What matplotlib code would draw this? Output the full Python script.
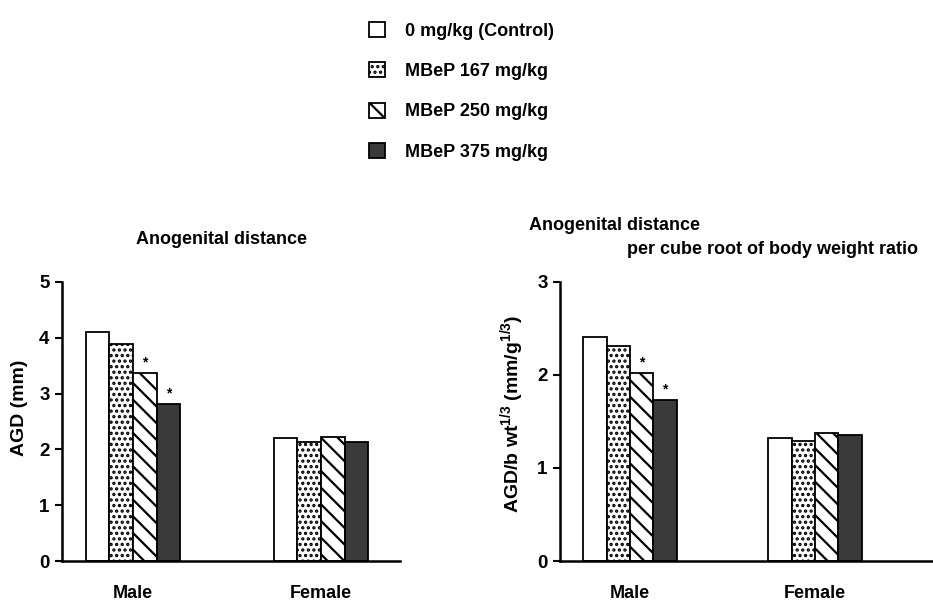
import matplotlib
matplotlib.use("Agg")
import matplotlib.pyplot as plt
from matplotlib.patches import Patch
import numpy as np

plt.rcParams['font.family'] = ['Liberation Sans', 'DejaVu Sans']
plt.rcParams['font.weight'] = 'bold'
plt.rcParams['hatch.linewidth'] = 1.6
plt.rcParams['mathtext.fontset'] = 'custom'
plt.rcParams['mathtext.rm'] = 'Liberation Sans:bold'
plt.rcParams['mathtext.bf'] = 'Liberation Sans:bold'
plt.rcParams['mathtext.default'] = 'rm'

groups = ["Male", "Female"]
series = ["0 mg/kg (Control)", "MBeP 167 mg/kg", "MBeP 250 mg/kg", "MBeP 375 mg/kg"]
agd = [[4.10, 2.20], [3.88, 2.13], [3.37, 2.22], [2.82, 2.14]]
agd_ratio = [[2.41, 1.32], [2.31, 1.29], [2.02, 1.38], [1.73, 1.36]]
signif = [[False, False], [False, False], [True, False], [True, False]]

faces = ['white', 'white', 'white', '#3a3a3a']
hatches = [None, '...', '\\\\', None]

W, H = 933, 605
fig = plt.figure(figsize=(W / 100, H / 100), dpi=100)

def px(x0, y0, x1, y1):
    return [x0 / W, 1 - y1 / H, (x1 - x0) / W, (y1 - y0) / H]

ax1 = fig.add_axes(px(62, 282, 400, 561))
ax2 = fig.add_axes(px(560, 282, 933, 561))

bw = 0.126
x = np.arange(len(groups))

def draw(ax, data, ymax, xlim):
    for i in range(len(series)):
        off = (i - 1.5) * bw
        bars = ax.bar(x + off, data[i], width=bw, facecolor=faces[i],
                      edgecolor='black', linewidth=1.3, hatch=hatches[i])
        for j, b in enumerate(bars):
            if signif[i][j]:
                ax.text(b.get_x() + b.get_width() / 2, b.get_height() + ymax * 0.012,
                        '*', ha='center', va='bottom', fontsize=10, fontweight='bold')
    ax.set_ylim(0, ymax)
    ax.set_xlim(*xlim)
    ax.set_yticks(np.arange(0, ymax + 1, 1))
    ax.set_xticks(x)
    ax.set_xticklabels(groups, fontsize=13, fontweight='bold')
    ax.tick_params(axis='x', length=0, pad=17)
    ax.tick_params(axis='y', length=5, width=1.5, labelsize=13.5, pad=4)
    for lab in ax.get_yticklabels():
        lab.set_fontweight('bold')
    for s in ['top', 'right']:
        ax.spines[s].set_visible(False)
    for s in ['left', 'bottom']:
        ax.spines[s].set_linewidth(1.8)

draw(ax1, agd, 5, (-0.378, 1.42))
draw(ax2, agd_ratio, 3, (-0.378, 1.638))

fig.text(221 / W, 1 - 240 / H, "Anogenital distance", ha='center', va='center',
         fontsize=13, fontweight='bold')
fig.text(529 / W, 1 - 226 / H, "Anogenital distance", ha='left', va='center',
         fontsize=13, fontweight='bold')
fig.text(627 / W, 1 - 249 / H, "per cube root of body weight ratio", ha='left', va='center',
         fontsize=13, fontweight='bold')
fig.text(20 / W, 1 - 408 / H, "AGD (mm)", rotation=90, ha='center', va='center',
         fontsize=14, fontweight='bold')
fig.text(512 / W, 1 - 414 / H, r"AGD/b wt$^{1/3}$ (mm/g$^{1/3}$)", rotation=90,
         ha='center', va='center', fontsize=14, fontweight='bold')

handles = [Patch(facecolor=faces[i], edgecolor='black', hatch=hatches[i], linewidth=1.3)
           for i in range(len(series))]
fig.legend(handles, series, loc='upper left', bbox_to_anchor=(369 / W, 1 - 22 / H),
           frameon=False, prop={'weight': 'bold', 'size': 13},
           handlelength=0.9, handleheight=0.9, handletextpad=1.1,
           labelspacing=1.25, borderpad=0, borderaxespad=0)

fig.savefig("out.png", dpi=100)
